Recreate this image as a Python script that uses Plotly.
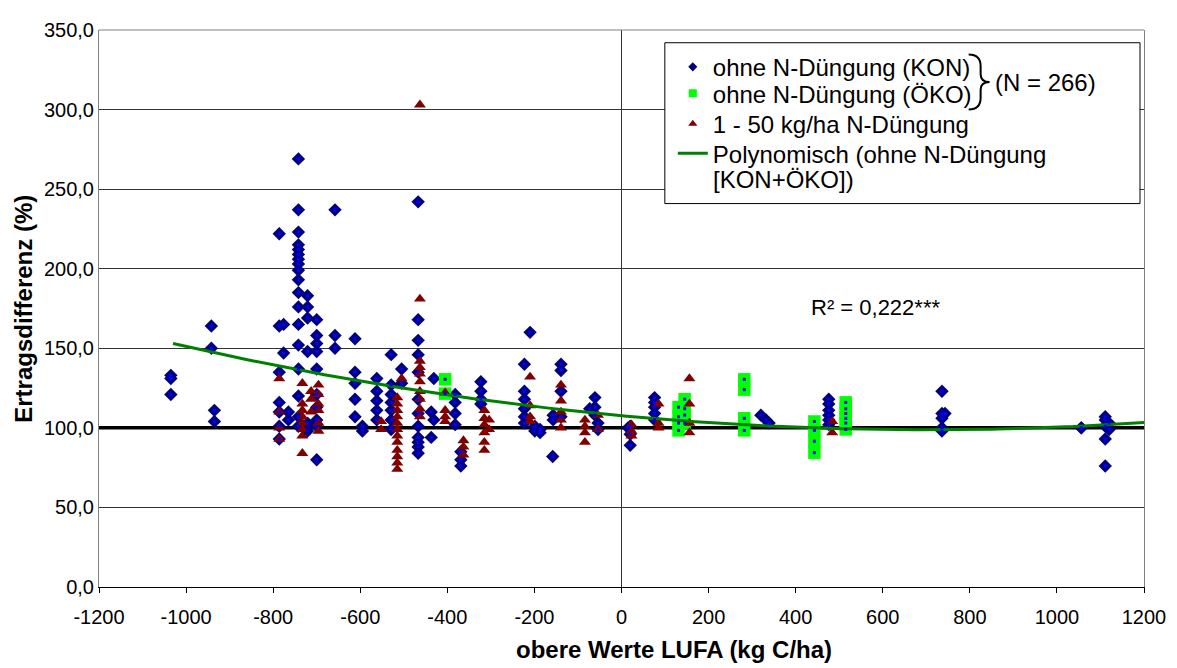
import plotly.graph_objects as go
import numpy as np

# ---------------- data ----------------
# ohne N-Düngung (KON): x positions of the columns and their y values
kon_col_x = [-1035, -942, -935, -786, -776, -765, -742, -721, -700, -658, -612, -595,
             -562, -529, -505, -467, -437, -431, -382, -369, -323, -223, -210, -199,
             -187, -158, -157, -139, -73, -61, -54, 15, 20, 76, 320, 332, 339, 476,
             736, 743, 1056, 1111, 1120]
kon_col_y = [[133, 131, 121], [164, 150], [111, 104], [222, 164, 135, 116, 110, 101, 93],
             [165, 147], [110, 105],
             [269, 237, 223, 215, 212, 209, 206, 203, 199, 193, 185, 176, 165, 152, 137, 120, 107, 101],
             [183, 176, 169, 148, 103, 98], [168, 158, 153, 148, 137, 121, 113, 105, 101, 80],
             [237, 158, 150], [156, 135, 128, 118, 107], [101, 98], [131, 123, 117, 111, 105],
             [146, 127, 121, 116, 111, 105, 99], [137, 128],
             [242, 168, 155, 146, 135, 118, 109, 101, 94, 91, 88, 84], [110, 94], [131, 105],
             [121, 116, 109, 102], [85, 80, 76], [129, 123, 118, 115],
             [140, 123, 118, 112, 107, 103], [160], [101, 98], [99, 97], [82], [108, 105],
             [140, 136, 123, 107], [112], [119, 113, 108], [103, 99], [100], [101, 96, 89],
             [119, 116, 113, 109, 105], [108], [105], [103], [118, 115, 111, 108, 105, 102],
             [123, 109, 106, 100, 98], [109], [100, 100], [107, 105, 101, 93, 76], [103, 99]]

# ohne N-Düngung (ÖKO)
oko_col_x = [-405, 131, 145, 282, 443, 515]
oko_col_y = [[130.5, 121.5], [113, 107, 103, 98.4], [118, 112, 108, 103],
             [130.5, 124, 106, 98.4], [104, 98.4, 91.6, 84.4], [116, 112, 109, 106, 103, 99]]

# 1 - 50 kg/ha N-Düngung
n50_col_x = [-786, -733, -713, -696, -552, -515, -505, -463, -405, -363, -315, -304,
             -210, -139, -84, -54, 23, 85, 156, 484]
n50_col_y = [[131, 110, 100, 93], [128, 115, 111, 107, 103, 99, 95, 84], [123, 118, 110],
             [127, 121, 115, 111, 103, 98], [104, 99],
             [119, 115, 111, 107, 103, 99, 95, 91, 86, 82, 78, 74], [131],
             [303, 181, 142, 138, 134, 129, 123, 118, 112, 107], [122, 111, 107, 104],
             [92, 88, 83], [111, 106, 102, 97, 91, 86], [105, 99], [132, 114, 107, 104],
             [127, 117, 110, 105, 100], [105, 101, 97, 91], [108, 99], [102, 98, 95],
             [115, 103, 100], [131, 115, 103, 97], [104, 97]]

# polynomial trend (2nd order): a*x^2 + b*x + c
trend_coef = [1.812e-5, -0.025368, 107.65]
trend_x_range = [-1030, 1200]
r2_text = "R² = 0,222***"

x_tick_vals = [-1200, -1000, -800, -600, -400, -200, 0, 200, 400, 600, 800, 1000, 1200]
x_tick_text = ["-1200", "-1000", "-800", "-600", "-400", "-200", "0", "200", "400",
               "600", "800", "1000", "1200"]
y_tick_vals = [0, 50, 100, 150, 200, 250, 300, 350]
y_tick_text = ["0,0", "50,0", "100,0", "150,0", "200,0", "250,0", "300,0", "350,0"]
baseline_value = 100
x_range = [-1200, 1200]


def flatten(cols_x, cols_y):
    xs, ys = [], []
    for x, yl in zip(cols_x, cols_y):
        for y in yl:
            xs.append(x)
            ys.append(y)
    return xs, ys


kon_x, kon_y = flatten(kon_col_x, kon_col_y)
oko_x, oko_y = flatten(oko_col_x, oko_col_y)
n50_x, n50_y = flatten(n50_col_x, n50_col_y)

FONT = "Liberation Sans, Arial, sans-serif"
NAVY = "#000080"
DARKRED = "#800000"
LIME = "#00FF00"
GREEN = "#008000"

# page layout (pixels in the browser window); the page body has an 8px margin
OFF = 8
W, H = 1177 - OFF, 668 - OFF
L, R, T, B = 99, 1148, 19, 587   # plot area, page pixels


def P(px, py):
    return (px - L) / (R - L), (B - py) / (B - T)


fig = go.Figure()

# thick reference line at 100 %
fig.add_trace(go.Scatter(x=x_range, y=[baseline_value, baseline_value], mode="lines",
                         showlegend=False, hoverinfo="skip",
                         line=dict(color="black", width=3.5)))

fig.add_trace(go.Scatter(x=kon_x, y=kon_y, mode="markers", showlegend=False,
                         marker=dict(symbol="diamond", size=10.3, color=NAVY, line=dict(width=0))))
fig.add_trace(go.Scatter(x=oko_x, y=oko_y, mode="markers", showlegend=False,
                         marker=dict(symbol="square", size=12.5, color=LIME, line=dict(width=0))))
fig.add_trace(go.Scatter(x=n50_x, y=n50_y, mode="markers", showlegend=False,
                         marker=dict(symbol="triangle-up", size=10.5, color=DARKRED, line=dict(width=0))))

tx = np.linspace(trend_x_range[0], trend_x_range[1], 200)
ty = np.polyval(trend_coef, tx)
fig.add_trace(go.Scatter(x=tx, y=ty, mode="lines", showlegend=False,
                         line=dict(color=GREEN, width=3)))

fig.add_trace(go.Scatter(x=kon_x + oko_x, y=kon_y + oko_y, mode="markers", showlegend=False,
                         marker=dict(symbol="square", size=3, color="#0000FF", line=dict(width=0))))

# legend-only entries, one small legend per row
fig.add_trace(go.Scatter(x=[None], y=[None], mode="markers", name="ohne N-Düngung (KON)",
                         legend="legend", marker=dict(symbol="diamond", size=7, color=NAVY)))
fig.add_trace(go.Scatter(x=[None], y=[None], mode="markers", name="ohne N-Düngung (ÖKO)",
                         legend="legend2", marker=dict(symbol="square", size=8, color=LIME)))
fig.add_trace(go.Scatter(x=[None], y=[None], mode="markers", name="1 - 50 kg/ha N-Düngung",
                         legend="legend3", marker=dict(symbol="triangle-up", size=8, color=DARKRED)))
fig.add_trace(go.Scatter(x=[None], y=[None], mode="lines",
                         name="Polynomisch (ohne N-Düngung",
                         legend="legend4", line=dict(color=GREEN, width=3)))

lx0, ly0 = P(667, 32)
lx1, ly1 = P(1144, 196)

bx = lambda px: P(px, 0)[0]
by = lambda py: P(0, py)[1]
brace = (f"M {bx(972)},{by(44)} Q {bx(984)},{by(44)} {bx(984)},{by(56)} "
         f"L {bx(984)},{by(64)} Q {bx(984)},{by(72)} {bx(993)},{by(72)} "
         f"Q {bx(984)},{by(72)} {bx(984)},{by(80)} L {bx(984)},{by(88)} "
         f"Q {bx(984)},{by(100)} {bx(972)},{by(100)}")

shapes = [
    dict(type="line", xref="paper", yref="paper", x0=0, x1=1, y0=1, y1=1,
         line=dict(color="#808080", width=1), layer="above"),
    dict(type="rect", xref="paper", yref="paper", x0=lx0, x1=lx1, y0=ly1, y1=ly0,
         fillcolor="white", line=dict(color="black", width=1), layer="above"),
    dict(type="path", xref="paper", yref="paper", path=brace,
         line=dict(color="black", width=2), layer="above"),
]

LEG_FONT = dict(size=24, family=FONT, color="black")


def leg(py):
    return dict(x=P(675, 0)[0], y=P(0, py)[1], xanchor="left", yanchor="middle",
                bgcolor="rgba(0,0,0,0)", borderwidth=0, font=LEG_FONT)


nx, ny = P(996, 73)
rx, ry = P(812, 302)
annotations = [
    dict(text="(N = 266)", xref="paper", yref="paper", x=nx, y=ny, xanchor="left",
         yanchor="middle", showarrow=False, font=LEG_FONT),
    dict(text="[KON+ÖKO])", xref="paper", yref="paper", x=P(713, 0)[0], y=P(0, 171)[1],
         xanchor="left", yanchor="middle", showarrow=False, font=LEG_FONT),
    dict(text=r2_text, xref="paper", yref="paper", x=rx, y=ry, xanchor="left",
         yanchor="middle", showarrow=False, font=dict(size=22, color="black", family=FONT)),
    dict(text="<b>obere Werte LUFA (kg C/ha)</b>", xref="paper", yref="paper",
         x=P(676, 0)[0], y=P(0, 651)[1], xanchor="center", yanchor="middle", showarrow=False,
         font=dict(size=24, color="black", family=FONT)),
    dict(text="<b>Ertragsdifferenz (%)</b>", xref="paper", yref="paper",
         x=P(23, 0)[0], y=0.5, xanchor="center", yanchor="middle", textangle=-90,
         showarrow=False, font=dict(size=24, color="black", family=FONT)),
]

fig.update_layout(
    width=W, height=H, autosize=False,
    margin=dict(l=L - OFF, r=W - (R - OFF), t=T - OFF, b=H - (B - OFF), pad=0),
    paper_bgcolor="white", plot_bgcolor="white",
    font=dict(family=FONT, color="black"),
    shapes=shapes, annotations=annotations,
    legend=leg(57), legend2=leg(84), legend3=leg(115), legend4=leg(145),
    xaxis=dict(range=x_range, tickvals=x_tick_vals, ticktext=x_tick_text,
               ticks="outside", ticklen=5, tickcolor="black", showline=True,
               linecolor="black", linewidth=1, showgrid=False, zeroline=True,
               zerolinecolor="#333333", zerolinewidth=1.3, tickfont=dict(size=20),
               ticklabelstandoff=7),
    yaxis=dict(range=[0, 350], tickvals=y_tick_vals, ticktext=y_tick_text,
               showgrid=True, gridcolor="#333333", gridwidth=1, showline=True,
               linecolor="#808080", mirror=True, ticks="", zeroline=False,
               tickfont=dict(size=20)),
)

fig.write_html("out.html")
